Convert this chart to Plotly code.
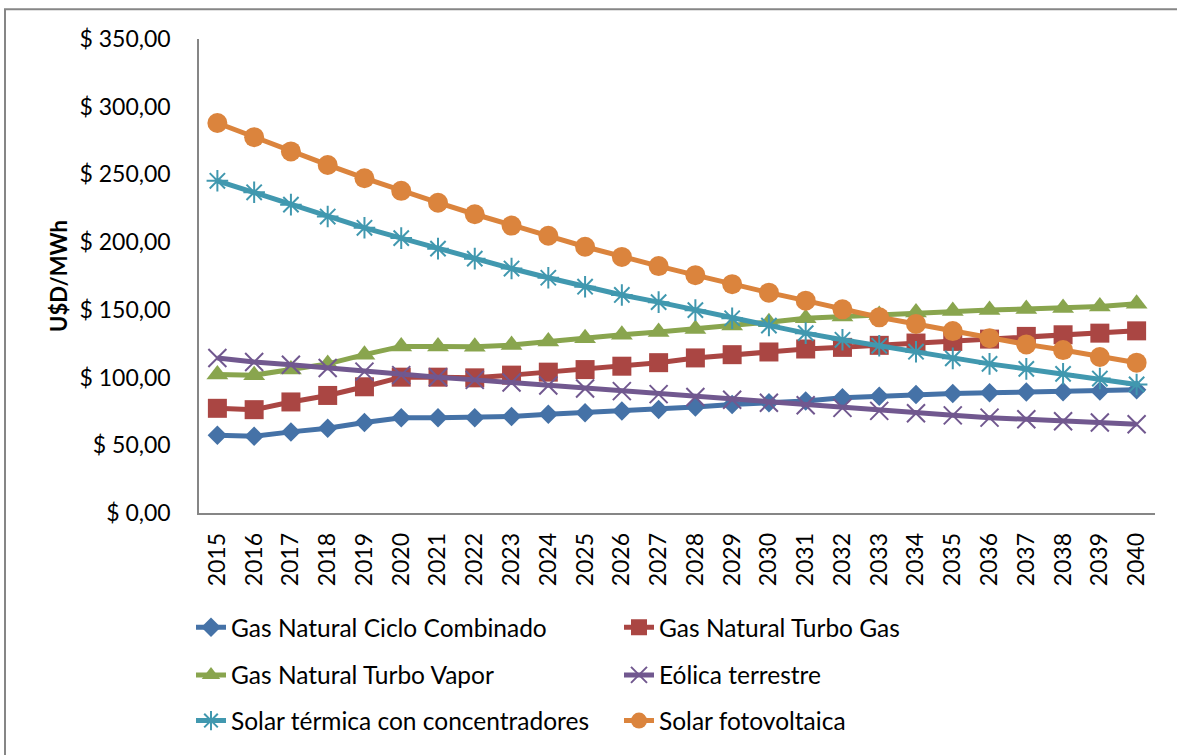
import plotly.graph_objects as go

years = [str(y) for y in range(2015, 2041)]

ciclo_combinado = [57.5, 56.7, 59.9, 62.6, 66.8, 70.4, 70.4, 70.4, 71.2, 72.9, 74.1, 75.4, 76.5,
                   78.3, 80.2, 81.4, 82.7, 85.1, 86.3, 87.5, 88.3, 88.8, 89.3, 89.5, 90.0, 91.0]
turbo_gas = [77.3, 76.3, 82.0, 86.8, 93.2, 100.3, 100.3, 99.8, 101.8, 104.0, 105.9, 108.4, 111.0,
             114.5, 116.9, 118.9, 121.1, 122.3, 123.8, 125.5, 126.7, 128.4, 130.4, 131.6, 132.8, 134.5]
turbo_vapor = [102.2, 101.8, 105.9, 110.1, 116.9, 123.0, 123.0, 122.8, 124.0, 126.7, 129.1, 131.6, 133.7,
               135.8, 138.5, 140.9, 143.8, 145.1, 146.2, 148.0, 149.2, 149.9, 150.6, 151.4, 152.4, 154.5]
eolica = [114.5, 111.5, 109.5, 107.1, 104.4, 101.8, 100.3, 98.3, 96.3, 94.1, 91.9, 90.0, 87.8,
          85.6, 83.6, 81.4, 79.5, 77.6, 75.4, 73.6, 72.1, 70.4, 69.2, 67.7, 66.8, 65.5]
solar_termica = [245.3, 236.8, 227.7, 218.9, 210.6, 203.0, 195.2, 187.8, 180.5, 173.7, 167.1, 161.0, 155.7,
                 149.8, 143.8, 138.4, 132.8, 127.9, 123.5, 119.1, 114.2, 110.1, 106.4, 102.7, 99.3, 94.9]
solar_fv = [288.0, 277.5, 267.0, 257.0, 247.2, 237.9, 229.1, 220.6, 212.2, 204.7, 196.6, 189.1, 182.3,
            175.6, 169.0, 162.7, 156.8, 150.4, 144.5, 139.6, 134.3, 129.1, 124.5, 120.3, 115.2, 111.0]

series_names = ["Gas Natural Ciclo Combinado", "Gas Natural Turbo Gas", "Gas Natural Turbo Vapor",
                "Eólica terrestre", "Solar térmica con concentradores", "Solar fotovoltaica"]
series_values = [ciclo_combinado, turbo_gas, turbo_vapor, eolica, solar_termica, solar_fv]

y_tick_vals = [0, 50, 100, 150, 200, 250, 300, 350]
y_tick_text = ["$ 0,00", "$ 50,00", "$ 100,00", "$ 150,00", "$ 200,00", "$ 250,00", "$ 300,00", "$ 350,00"]

colors = ["#4572A7", "#AA4643", "#89A54E", "#71588F", "#4198AF", "#DB843D"]
symbols = ["diamond", "square", "triangle-up", "x-thin-open", "asterisk-open", "circle"]
sizes = [15, 19, 19, 18, 18, 20]
legends = ["legend", "legend", "legend2", "legend2", "legend3", "legend3"]

FONT = "Lato"

fig = go.Figure()
for name, vals, c, s, sz, lg in zip(series_names, series_values, colors, symbols, sizes, legends):
    marker = dict(symbol=s, size=sz, color=c)
    if s.endswith("open"):
        marker["line"] = dict(color=c, width=2)
    fig.add_trace(go.Scatter(
        x=years, y=vals, name=name, mode="lines+markers",
        line=dict(color=c, width=5), marker=marker, legend=lg,
    ))

# plot area in px: left 199, right 1155, top 39, bottom 516
L, R, T, B = 199, 1155, 39, 516
W, H = R - L, B - T

def px_x(x):
    return (x - L) / W

def px_y(y):
    return (B - y) / H

leg_common = dict(orientation="h", xanchor="left", yanchor="middle",
                  font=dict(family=FONT, size=24.5, color="black"),
                  entrywidth=383, entrywidthmode="pixels", bgcolor="rgba(0,0,0,0)",
                  itemwidth=30)

fig.update_layout(
    width=1177, height=755,
    margin=dict(l=L, r=1177 - R, t=T, b=755 - B),
    paper_bgcolor="white", plot_bgcolor="white",
    font=dict(family=FONT, size=23, color="black"),
    legend=dict(x=px_x(191), y=px_y(631), **leg_common),
    legend2=dict(x=px_x(191), y=px_y(679), **leg_common),
    legend3=dict(x=px_x(191), y=px_y(725), **leg_common),
    xaxis=dict(type="category", range=[-0.5, len(years) - 0.5], tickangle=-90, showline=True,
               linecolor="#868686", linewidth=1.5, showgrid=False, ticks="",
               tickfont=dict(family=FONT, size=23), ticklabelstandoff=9, zeroline=False),
    yaxis=dict(range=[0, 350], tickvals=y_tick_vals, ticktext=y_tick_text, showline=True,
               linecolor="#868686", linewidth=1.5, showgrid=False, ticks="", zeroline=False,
               tickfont=dict(family=FONT, size=23), ticklabelstandoff=22,
               title=dict(text="<b>U$D/MWh</b>", font=dict(family=FONT, size=22), standoff=6)),
    shapes=[dict(type="path", xref="paper", yref="paper",
                 path=f"M {px_x(5)} {px_y(760)} L {px_x(5)} {px_y(9)} L {px_x(1180)} {px_y(9)}",
                 line=dict(color="#868686", width=2))],
    showlegend=True,
)

fig.write_html("out.html")
